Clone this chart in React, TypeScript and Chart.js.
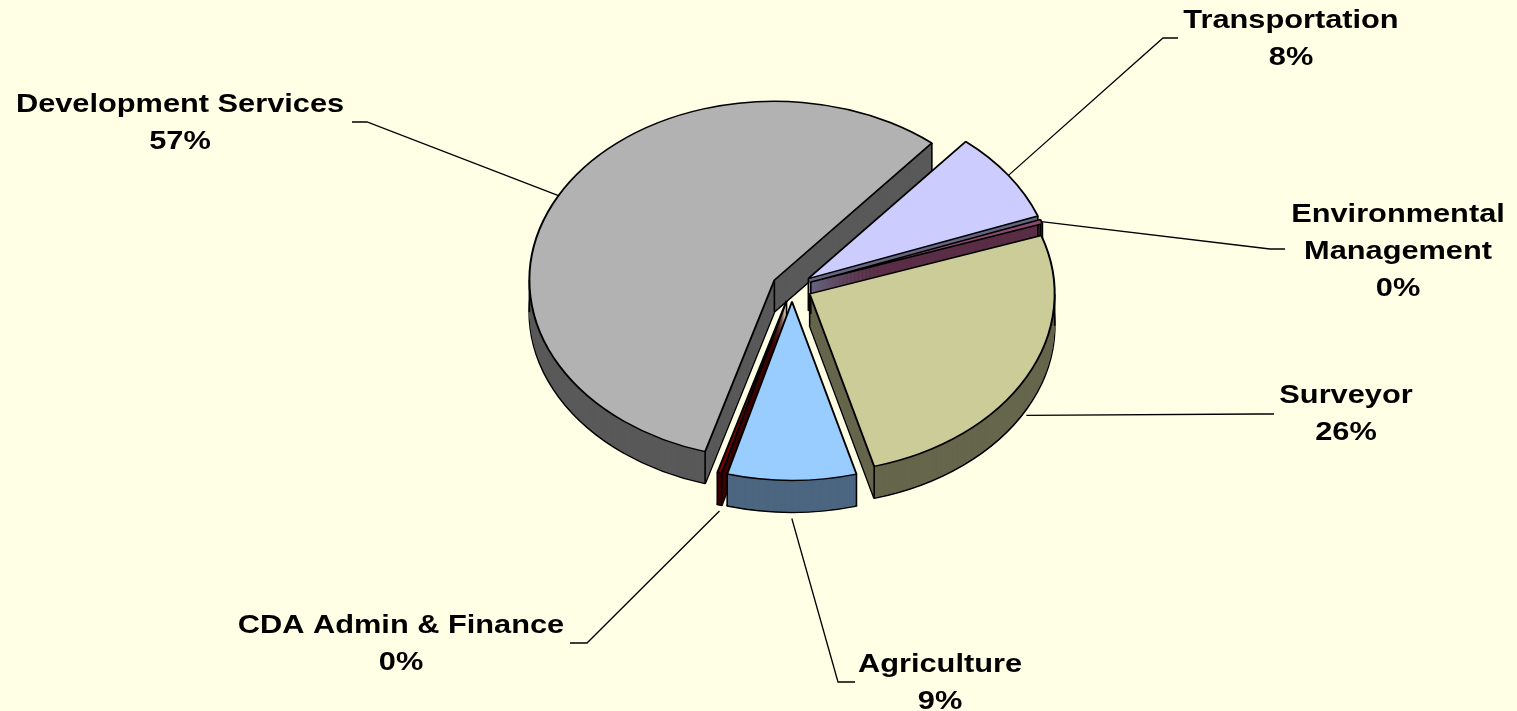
import { useEffect, useRef } from 'react';
import { Chart, registerables } from 'chart.js';

Chart.register(...registerables);

// ---- data ----
const categories = [
  'Transportation',
  'Environmental Management',
  'Surveyor',
  'Agriculture',
  'CDA Admin & Finance',
  'Development Services',
];
const values = [8.2, 0.4, 26.05, 8.5, 0.3, 56.55];
const labelLines = [
  ['Transportation'],
  ['Environmental', 'Management'],
  ['Surveyor'],
  ['Agriculture'],
  ['CDA Admin & Finance'],
  ['Development Services'],
];

// ---- styles ----
const TOP_COLORS = ['#CCCCFF', '#8C4A6E', '#CCCC99', '#99CCFF', '#7A0000', '#B2B2B2'];
const SIDE_COLORS = ['#666680', '#5A2E46', '#66664C', '#4C6680', '#3D0000', '#595959'];
const BG = '#FFFFE5';
const START_ROTATION = 40;
const EXPLODE = 20;
const TILT = 0.73;
const DEPTH = 32;
const RADIUS = 245;
const TEXT_STRETCH = 1.23;
const LINE_H = 37;
const FONT = 'bold 25px "Liberation Sans", Arial, sans-serif';

// label placement (text centre x, first baseline y, leader hook [near x, far x, y])
const LABEL_LAYOUT = [
  { x: 1291, y: 28, hook: [1163, 1178, 38] },
  { x: 1398, y: 222, hook: [1270, 1285, 249] },
  { x: 1346, y: 403, hook: [1258, 1274, 414] },
  { x: 940, y: 672, hook: [838, 855, 682] },
  { x: 401, y: 633, hook: [587, 570, 643] },
  { x: 180, y: 112, hook: [367, 352, 122] },
];

function centerOf(chart: any) {
  const a = chart.chartArea;
  return { cx: (a.left + a.right) / 2, cy: (a.top + a.bottom) / 2 };
}

function tilt(ctx: CanvasRenderingContext2D, cx: number, cy: number) {
  ctx.translate(cx, cy);
  ctx.scale(1, TILT);
  ctx.translate(-cx, -cy);
}

function drawGhost(chart: any, a: any, i: number, d: number, stroke: boolean) {
  const { ctx } = chart;
  const { cx, cy } = centerOf(chart);
  const ghost = Object.create(a);
  ghost.options = {
    ...a.options,
    backgroundColor: SIDE_COLORS[i],
    borderColor: '#000000',
    borderWidth: stroke ? 2 : 0,
  };
  ctx.save();
  ctx.translate(0, d);
  tilt(ctx, cx, cy);
  ghost.draw(ctx, chart.chartArea);
  ctx.restore();
}

const pie3d = {
  id: 'pie3d',
  afterDatasetsUpdate(chart: any) {
    const arcs = chart.getDatasetMeta(0).data;
    arcs.forEach((a: any) => {
      const mid = (a.startAngle + a.endAngle) / 2;
      a.x += Math.cos(mid) * EXPLODE;
      a.y += Math.sin(mid) * EXPLODE;
    });
  },
  beforeDatasetsDraw(chart: any) {
    const { ctx } = chart;
    const { cx, cy } = centerOf(chart);
    const arcs = chart.getDatasetMeta(0).data;
    // bottom outline
    arcs.forEach((a: any, i: number) => drawGhost(chart, a, i, DEPTH, true));
    // extruded side body
    for (let d = DEPTH - 1; d >= 1; d--) {
      arcs.forEach((a: any, i: number) => drawGhost(chart, a, i, d, false));
    }
    // vertical edges at corners and silhouettes
    ctx.save();
    ctx.strokeStyle = '#000000';
    ctx.lineWidth = 1.6;
    arcs.forEach((a: any) => {
      const r = a.outerRadius;
      const pts: number[][] = [];
      const angs = [a.startAngle, a.endAngle];
      for (let k = -4; k <= 4; k++) {
        const t = k * Math.PI;
        if (t > a.startAngle && t < a.endAngle) angs.push(t);
      }
      angs.forEach((t) => {
        pts.push([a.x + Math.cos(t) * r, cy + (a.y + Math.sin(t) * r - cy) * TILT]);
      });
      pts.push([a.x, cy + (a.y - cy) * TILT]);
      pts.forEach(([x, y]) => {
        ctx.beginPath();
        ctx.moveTo(x, y);
        ctx.lineTo(x, y + DEPTH);
        ctx.stroke();
      });
    });
    ctx.restore();
    ctx.save();
    tilt(ctx, cx, cy);
  },
  afterDatasetsDraw(chart: any) {
    chart.ctx.restore();
  },
  afterDraw(chart: any) {
    const { ctx } = chart;
    const { cy } = centerOf(chart);
    const arcs = chart.getDatasetMeta(0).data;
    const total = values.reduce((s, v) => s + v, 0);
    arcs.forEach((a: any, i: number) => {
      const lay = LABEL_LAYOUT[i];
      const mid = (a.startAngle + a.endAngle) / 2;
      const r = a.outerRadius;
      const sx = a.x + Math.cos(mid) * r;
      let sy = cy + (a.y + Math.sin(mid) * r - cy) * TILT;
      if (Math.sin(mid) > 0.2) sy += DEPTH + 6;
      ctx.save();
      ctx.strokeStyle = '#000000';
      ctx.lineWidth = 1.3;
      ctx.beginPath();
      ctx.moveTo(sx, sy);
      ctx.lineTo(lay.hook[0], lay.hook[2]);
      ctx.lineTo(lay.hook[1], lay.hook[2]);
      ctx.stroke();
      ctx.fillStyle = '#000000';
      ctx.font = FONT;
      ctx.textAlign = 'center';
      ctx.textBaseline = 'alphabetic';
      const pct = Math.round((values[i] / total) * 100) + '%';
      const lines = [...labelLines[i], pct];
      lines.forEach((t, j) => {
        ctx.save();
        ctx.translate(lay.x, lay.y + j * LINE_H);
        ctx.scale(TEXT_STRETCH, 1);
        ctx.fillText(t, 0, 0);
        ctx.restore();
      });
      ctx.restore();
    });
  },
};

export default function App() {
  const ref = useRef<HTMLCanvasElement>(null);
  useEffect(() => {
    if (!ref.current) return;
    const chart = new Chart(ref.current, {
      type: 'pie',
      data: {
        labels: categories,
        datasets: [
          {
            data: values,
            backgroundColor: TOP_COLORS,
            borderColor: '#000000',
            borderWidth: 2,
            clip: false as any,
          },
        ],
      },
      options: {
        animation: false,
        responsive: true,
        maintainAspectRatio: false,
        events: [],
        rotation: START_ROTATION,
        radius: RADIUS,
        layout: { padding: { left: 67, right: 0, top: 0, bottom: 137 } },
        plugins: { legend: { display: false }, tooltip: { enabled: false } },
      } as any,
      plugins: [pie3d],
    });
    return () => chart.destroy();
  }, []);
  return (
    <div style={{ position: 'fixed', left: 0, top: 0, width: '100vw', height: '100vh', background: BG }}>
      <canvas ref={ref} />
    </div>
  );
}
